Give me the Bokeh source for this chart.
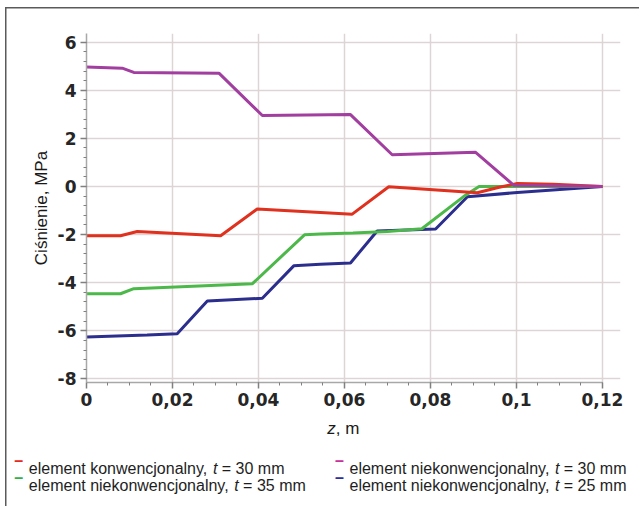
from bokeh.plotting import figure
from bokeh.models import FixedTicker, Label, Range1d
from bokeh.layouts import column
from bokeh.embed import file_html
from bokeh.resources import INLINE
import numpy as np

# ---- data ----
z_red = [0, 0.0079, 0.0118, 0.0312, 0.0397, 0.0618, 0.0703, 0.0909, 0.0955, 0.1002, 0.1086, 0.12]
p_red = [-2.05, -2.05, -1.87, -2.05, -0.94, -1.15, -0.01, -0.26, -0.05, 0.12, 0.09, 0.0]

z_purple = [0, 0.0083, 0.011, 0.0308, 0.0409, 0.0614, 0.0711, 0.0905, 0.0994, 0.12]
p_purple = [4.97, 4.92, 4.74, 4.71, 2.95, 2.99, 1.32, 1.42, 0.05, 0.0]

z_green = [0, 0.0079, 0.011, 0.0386, 0.0507, 0.0544, 0.062, 0.07, 0.078, 0.0877, 0.0913, 0.12]
p_green = [-4.46, -4.46, -4.25, -4.04, -2.01, -1.98, -1.93, -1.87, -1.76, -0.42, 0.0, 0.0]

z_blue = [0, 0.0141, 0.0211, 0.0281, 0.0409, 0.0482, 0.0544, 0.0614, 0.0676, 0.0812, 0.0886, 0.1002, 0.12]
p_blue = [-6.26, -6.18, -6.12, -4.76, -4.65, -3.30, -3.23, -3.18, -1.85, -1.77, -0.43, -0.25, 0.0]

x_ticks = [0, 0.02, 0.04, 0.06, 0.08, 0.1, 0.12]
x_tick_labels = ["0", "0,02", "0,04", "0,06", "0,08", "0,1", "0,12"]
y_ticks = [-8, -6, -4, -2, 0, 2, 4, 6]
y_tick_labels = ["-8", "-6", "-4", "-2", "0", "2", "4", "6"]

series_names = [
    ("element konwencjonalny,", "t", "= 30 mm"),
    ("element niekonwencjonalny,", "t", "= 30 mm"),
    ("element niekonwencjonalny,", "t", "= 35 mm"),
    ("element niekonwencjonalny,", "t", "= 25 mm"),
]
colors = ["#e0301e", "#a23ea0", "#4cb84a", "#2c2e8e"]
dash_colors = ["#e8281e", "#c8309a", "#30b04a", "#2c2e9a"]

FONT = "Liberation Sans"
W = 634
H_A = 407          # main chart canvas height (page y 7 .. 414)
H_B = 499 - H_A    # text strip below (page y 414 .. 506)
FL, FB = 81, 375   # frame left / bottom in main canvas px

# ---- main chart ----
p = figure(width=W, height=H_A,
           x_range=Range1d(0, 0.1242), y_range=Range1d(-8.15, 6.36),
           output_backend="svg", toolbar_location=None,
           min_border_left=FL, min_border_right=19,
           min_border_top=26, min_border_bottom=H_A - FB)
p.border_fill_color = None
p.background_fill_color = "white"
p.outline_line_color = None

for g in (p.xgrid, p.ygrid):
    g.grid_line_color = "#ddd5d5"
    g.grid_line_width = 1.5
p.xgrid.ticker = FixedTicker(ticks=x_ticks)
p.ygrid.ticker = FixedTicker(ticks=y_ticks)

x_minor = list(np.round(np.arange(0, 0.12001, 0.005), 4))
y_minor = list(np.round(np.arange(-8, 6.41, 0.4), 2))
p.xaxis.ticker = FixedTicker(ticks=x_ticks, minor_ticks=x_minor)
p.yaxis.ticker = FixedTicker(ticks=y_ticks, minor_ticks=y_minor)
p.xaxis.major_label_overrides = dict(zip(x_ticks, x_tick_labels))
p.yaxis.major_label_overrides = dict(zip(y_ticks, y_tick_labels))
p.xaxis.bounds = (0, 0.12)
for ax in (p.xaxis, p.yaxis):
    ax.axis_line_color = "#a8a8a8"
    ax.axis_line_width = 1.5
    ax.major_tick_line_color = "#808080"
    ax.minor_tick_line_color = "#808080"
    ax.major_tick_line_width = 1.5
    ax.major_tick_out = 6
    ax.major_tick_in = 0
    ax.minor_tick_out = 3
    ax.minor_tick_in = 0
    ax.major_label_text_font = "DejaVu Sans"
    ax.major_label_text_font_style = "bold"
    ax.major_label_text_font_size = "17px"
    ax.major_label_text_color = "#262626"
    ax.major_label_standoff = 4

p.yaxis.axis_label = "Ciśnienie, MPa"
p.yaxis.axis_label_text_font = FONT
p.yaxis.axis_label_text_font_style = "normal"
p.yaxis.axis_label_text_font_size = "17px"
p.yaxis.axis_label_text_color = "#1a1a1a"
p.yaxis.axis_label_standoff = 4

p.line(z_blue, p_blue, line_color=colors[3], line_width=3)
p.line(z_green, p_green, line_color=colors[2], line_width=3)
p.line(z_red, p_red, line_color=colors[0], line_width=3)
p.line(z_purple, p_purple, line_color=colors[1], line_width=3)

# ---- text strip: x-axis title and legend ----
q = figure(width=W, height=H_B, x_range=Range1d(0, W), y_range=Range1d(H_B, 0),
           output_backend="svg", toolbar_location=None,
           x_axis_location=None, y_axis_location=None,
           min_border_left=0, min_border_right=0, min_border_top=0, min_border_bottom=0)
q.border_fill_color = None
q.background_fill_color = None
q.outline_line_color = None
q.grid.visible = False

for fig in (p, q):
    if hasattr(fig, "frame_align"):
        fig.frame_align = False


def lab(x, y, text, size, style="normal", color="#1e1e1e"):
    q.add_layout(Label(x=x, y=y, text=text, text_font=FONT, text_font_style=style,
                       text_font_size=f"{size}px", text_color=color,
                       text_baseline="alphabetic", text_align="left"))


# "z, m" with italic z (page coords minus strip origin (5, 414))
lab(321.7, 14, "z", 17, "italic", "#1a1a1a")
lab(330.2, 14, ", m", 17, "normal", "#1a1a1a")

fs = 16
em = {"element konwencjonalny,": 11.227, "element niekonwencjonalny,": 12.561}
sp_w = 0.278 * fs
t_w = 0.278 * fs
positions = [(23.3, 54), (344.0, 54), (23.3, 71), (344.0, 71)]
for (x0, yb), (pre, tt, post), dc in zip(positions, series_names, dash_colors):
    lab(x0 - 14.5, yb - 8, "–", 16, "bold", dc)
    lab(x0, yb, pre, fs)
    xt = x0 + em[pre] * fs + sp_w
    lab(xt, yb, tt, fs, "italic")
    lab(xt + t_w + sp_w, yb, post, fs)

lay = column(p, q, spacing=0)
lay.margin = (7, 0, 0, 5)
lay.styles = {"box-shadow": "inset 1.5px 1.5px 0 0 #5a5a5a"}

open("out.html", "w").write(file_html(lay, INLINE))
